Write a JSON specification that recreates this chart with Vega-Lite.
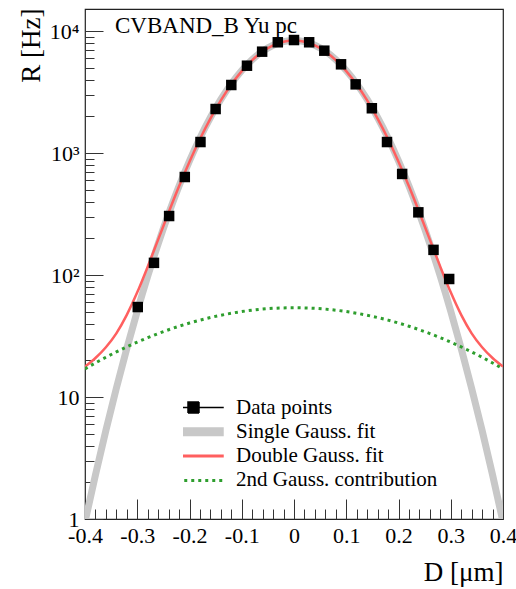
{
  "$schema": "https://vega.github.io/schema/vega-lite/v6.json",
  "width": 418,
  "height": 510,
  "autosize": {"type": "none"},
  "padding": {"left": 85, "top": 9, "right": 13, "bottom": 70},
  "background": "white",
  "config": {
    "view": {"stroke": "#222", "strokeWidth": 1.2},
    "axis": {"grid": false, "domain": false, "labelFont": "Liberation Serif", "titleFont": "Liberation Serif", "labelColor": "#000", "titleColor": "#000", "tickColor": "#333", "tickWidth": 1, "titleFontWeight": "normal"}
  },
  "datasets": {
    "curves": [
      {"D": -0.40, "single": 0.947, "double": 17.76, "second": 17.01},
      {"D": -0.38, "single": 2.30, "double": 20.9, "second": 19.04},
      {"D": -0.36, "single": 5.33, "double": 25.6, "second": 21.19},
      {"D": -0.34, "single": 11.8, "double": 33.3, "second": 23.44},
      {"D": -0.32, "single": 25.0, "double": 47.2, "second": 25.79},
      {"D": -0.30, "single": 50.5, "double": 72.2, "second": 28.2},
      {"D": -0.28, "single": 97.7, "double": 117.2, "second": 30.66},
      {"D": -0.26, "single": 180.4, "double": 195.5, "second": 33.15},
      {"D": -0.24, "single": 318, "double": 326, "second": 35.62},
      {"D": -0.22, "single": 537, "double": 535, "second": 38.07},
      {"D": -0.20, "single": 865.5, "double": 851, "second": 40.44},
      {"D": -0.18, "single": 1333, "double": 1305, "second": 42.71},
      {"D": -0.16, "single": 1961, "double": 1920, "second": 44.86},
      {"D": -0.14, "single": 2758, "double": 2706, "second": 46.85},
      {"D": -0.12, "single": 3707, "double": 3649, "second": 48.64},
      {"D": -0.10, "single": 4761, "double": 4702, "second": 50.23},
      {"D": -0.08, "single": 5840, "double": 5789, "second": 51.56},
      {"D": -0.06, "single": 6847, "double": 6805, "second": 52.61},
      {"D": -0.04, "single": 7672, "double": 7641, "second": 53.38},
      {"D": -0.02, "single": 8211, "double": 8193, "second": 53.84},
      {"D": 0.00, "single": 8400, "double": 8384, "second": 54.0},
      {"D": 0.02, "single": 8211, "double": 8193, "second": 53.84},
      {"D": 0.04, "single": 7672, "double": 7641, "second": 53.38},
      {"D": 0.06, "single": 6847, "double": 6805, "second": 52.61},
      {"D": 0.08, "single": 5840, "double": 5789, "second": 51.56},
      {"D": 0.10, "single": 4761, "double": 4702, "second": 50.23},
      {"D": 0.12, "single": 3707, "double": 3649, "second": 48.64},
      {"D": 0.14, "single": 2758, "double": 2706, "second": 46.85},
      {"D": 0.16, "single": 1961, "double": 1920, "second": 44.86},
      {"D": 0.18, "single": 1333, "double": 1305, "second": 42.71},
      {"D": 0.20, "single": 865.5, "double": 851, "second": 40.44},
      {"D": 0.22, "single": 537, "double": 535, "second": 38.07},
      {"D": 0.24, "single": 318, "double": 326, "second": 35.62},
      {"D": 0.26, "single": 180.4, "double": 195.5, "second": 33.15},
      {"D": 0.28, "single": 97.7, "double": 117.2, "second": 30.66},
      {"D": 0.30, "single": 50.5, "double": 72.2, "second": 28.2},
      {"D": 0.32, "single": 25.0, "double": 47.2, "second": 25.79},
      {"D": 0.34, "single": 11.8, "double": 33.3, "second": 23.44},
      {"D": 0.36, "single": 5.33, "double": 25.6, "second": 21.19},
      {"D": 0.38, "single": 2.30, "double": 20.9, "second": 19.04},
      {"D": 0.40, "single": 0.947, "double": 17.76, "second": 17.01}
    ],
    "points": [
      {"D": -0.299, "R": 54.7},
      {"D": -0.268, "R": 126},
      {"D": -0.239, "R": 305},
      {"D": -0.209, "R": 637},
      {"D": -0.179, "R": 1233},
      {"D": -0.150, "R": 2300},
      {"D": -0.120, "R": 3620},
      {"D": -0.090, "R": 5210},
      {"D": -0.061, "R": 6790},
      {"D": -0.031, "R": 8110},
      {"D": 0.000, "R": 8460},
      {"D": 0.029, "R": 8110},
      {"D": 0.058, "R": 6920},
      {"D": 0.090, "R": 5350},
      {"D": 0.118, "R": 3665},
      {"D": 0.149, "R": 2333},
      {"D": 0.178, "R": 1233},
      {"D": 0.207, "R": 675},
      {"D": 0.238, "R": 327},
      {"D": 0.267, "R": 161},
      {"D": 0.297, "R": 92.9}
    ],
    "annotation": [{"label": "CVBAND_B Yu pc"}]
  },
  "layer": [
    {
      "data": {"name": "curves"},
      "transform": [{"fold": ["single", "double", "second"], "as": ["s", "R"]}, {"filter": {"field": "s", "equal": "single"}}],
      "mark": {"type": "line", "strokeWidth": 7, "clip": true, "interpolate": "monotone"},
      "encoding": {
        "x": {"field": "D", "type": "quantitative", "scale": {"domain": [-0.4, 0.4], "nice": false, "zero": false},
          "axis": {"orient": "bottom", "values": [-0.4, -0.3, -0.2, -0.1, 0, 0.1, 0.2, 0.3, 0.4], "ticks": false, "tickSize": 0, "labelPadding": 6, "labelFontSize": 22, "labelOverlap": false, "labelFlush": false,
            "labelExpr": "datum.value == 0 ? '0' : replace(format(datum.value, '.1f'), '\u2212', '-')",
            "title": "D [\u03bcm]", "titleFontSize": 27, "titleX": 418, "titleY": 61, "titleAlign": "right", "titleBaseline": "alphabetic", "titleAngle": 0}},
        "y": {"field": "R", "type": "quantitative", "scale": {"type": "log", "domain": [1, 15200], "nice": false},
          "axis": {"orient": "left", "values": [1, 10, 100, 1000, 10000], "ticks": false, "tickSize": 0, "labelPadding": 6, "labelFontSize": 22, "labelOverlap": false, "labelFlush": false, "labelBaseline": "middle",
            "labelExpr": "datum.value == 1 ? '1' : datum.value == 10 ? '10' : datum.value == 100 ? '10\u00b2' : datum.value == 1000 ? '10\u00b3' : '10\u2074'",
            "title": "R [Hz]", "titleFontSize": 27, "titleX": -46, "titleY": -1, "titleAlign": "right", "titleBaseline": "alphabetic", "titleAngle": -90}},
        "color": {"field": "s", "type": "nominal",
          "scale": {"domain": ["data", "single", "double", "second"], "range": ["#000000", "#c8c8c8", "#ff5f5f", "#2e9e2e"]},
          "legend": {"title": null, "orient": "none", "legendX": 98, "legendY": 388, "padding": 0, "offset": 0,
            "labelFont": "Liberation Serif", "labelFontSize": 21, "labelColor": "#000", "labelOffset": 32, "labelLimit": 400,
            "symbolSize": 121, "symbolStrokeWidth": 3, "clipHeight": 21, "rowPadding": 2.3,
            "labelExpr": "datum.value === 'data' ? 'Data points' : datum.value === 'single' ? 'Single Gauss. fit' : datum.value === 'double' ? 'Double Gauss. fit' : '2nd Gauss. contribution'",
            "encode": {"symbols": {"update": {
              "shape": {"signal": "datum.value === 'data' ? 'M-5.5,0H5.5M-1,-1H1V1H-1Z' : 'M-5.5,0H5.5'"},
              "fill": {"signal": "datum.value === 'data' ? '#000000' : 'transparent'"},
              "stroke": {"signal": "datum.value === 'data' ? '#000000' : datum.value === 'single' ? '#c8c8c8' : datum.value === 'double' ? '#ff5f5f' : '#2e9e2e'"},
              "strokeWidth": {"signal": "datum.value === 'data' ? 1.5 : datum.value === 'single' ? 9 : 3"},
              "strokeDash": {"signal": "datum.value === 'second' ? [3, 4] : [1, 0]"},
              "size": {"value": 121},
              "opacity": {"value": 1}
            }}}}}
      }
    },
    {
      "data": {"name": "curves"},
      "transform": [{"fold": ["single", "double", "second"], "as": ["s", "R"]}, {"filter": {"field": "s", "equal": "double"}}],
      "mark": {"type": "line", "strokeWidth": 2.5, "clip": true, "interpolate": "monotone"},
      "encoding": {
        "x": {"field": "D", "type": "quantitative", "scale": {"domain": [-0.4, 0.4], "nice": false, "zero": false}, "axis": null},
        "y": {"field": "R", "type": "quantitative", "scale": {"type": "log", "domain": [1, 15200], "nice": false}, "axis": null},
        "color": {"field": "s", "type": "nominal", "scale": {"domain": ["data", "single", "double", "second"], "range": ["#000000", "#c8c8c8", "#ff5f5f", "#2e9e2e"]}}
      }
    },
    {
      "data": {"name": "curves"},
      "transform": [{"fold": ["single", "double", "second"], "as": ["s", "R"]}, {"filter": {"field": "s", "equal": "second"}}],
      "mark": {"type": "line", "strokeWidth": 3, "strokeDash": [3, 4], "clip": true, "interpolate": "monotone"},
      "encoding": {
        "x": {"field": "D", "type": "quantitative", "scale": {"domain": [-0.4, 0.4], "nice": false, "zero": false}, "axis": null},
        "y": {"field": "R", "type": "quantitative", "scale": {"type": "log", "domain": [1, 15200], "nice": false}, "axis": null},
        "color": {"field": "s", "type": "nominal", "scale": {"domain": ["data", "single", "double", "second"], "range": ["#000000", "#c8c8c8", "#ff5f5f", "#2e9e2e"]}}
      }
    },
    {
      "data": {"name": "points"},
      "mark": {"type": "point", "shape": "square", "filled": true, "size": 110, "color": "#000000", "opacity": 1},
      "encoding": {
        "x": {"field": "D", "type": "quantitative", "scale": {"domain": [-0.4, 0.4], "nice": false, "zero": false},
          "axis": {"orient": "bottom", "values": [-0.4, -0.3, -0.2, -0.1, 0, 0.1, 0.2, 0.3, 0.4], "labels": false, "title": null, "domain": false, "tickSize": -20}},
        "y": {"field": "R", "type": "quantitative", "scale": {"type": "log", "domain": [1, 15200], "nice": false},
          "axis": {"orient": "left", "values": [1, 10, 100, 1000, 10000], "labels": false, "title": null, "domain": false, "tickSize": -18}}
      }
    },
    {
      "data": {"name": "annotation"},
      "mark": {"type": "text", "align": "left", "baseline": "alphabetic", "font": "Liberation Serif", "fontSize": 23, "color": "#000000"},
      "encoding": {
        "x": {"datum": -0.3426, "type": "quantitative", "scale": {"domain": [-0.4, 0.4], "nice": false, "zero": false},
          "axis": {"orient": "bottom", "values": [-0.38, -0.36, -0.34, -0.32, -0.28, -0.26, -0.24, -0.22, -0.18, -0.16, -0.14, -0.12, -0.08, -0.06, -0.04, -0.02, 0.02, 0.04, 0.06, 0.08, 0.12, 0.14, 0.16, 0.18, 0.22, 0.24, 0.26, 0.28, 0.32, 0.34, 0.36, 0.38], "labels": false, "title": null, "domain": false, "tickSize": -10}},
        "y": {"datum": 9660, "type": "quantitative", "scale": {"type": "log", "domain": [1, 15200], "nice": false},
          "axis": {"orient": "left", "values": [2, 3, 4, 5, 6, 7, 8, 9, 20, 30, 40, 50, 60, 70, 80, 90, 200, 300, 400, 500, 600, 700, 800, 900, 2000, 3000, 4000, 5000, 6000, 7000, 8000, 9000], "labels": false, "title": null, "domain": false, "tickSize": -9}},
        "text": {"field": "label", "type": "nominal"}
      }
    }
  ],
  "resolve": {"axis": {"x": "independent", "y": "independent"}}
}
